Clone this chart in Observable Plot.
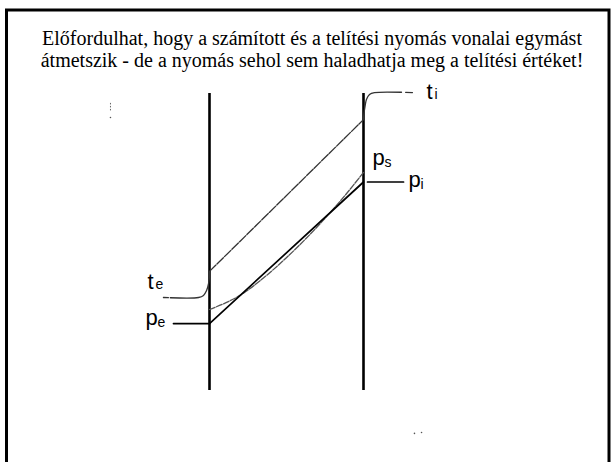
<!DOCTYPE html>
<html><head><meta charset="utf-8">
<script src="https://cdn.jsdelivr.net/npm/d3@7"></script>
<script src="https://cdn.jsdelivr.net/npm/@observablehq/plot@0.6"></script>
<style>
html,body{margin:0;padding:0;background:#fff;}
</style></head><body><div id="chart"></div>
<script>
// Title
const titleLines = [
  "Előfordulhat, hogy a számított és a telítési nyomás vonalai egymást",
  "átmetszik - de a nyomás sehol sem haladhatja meg a telítési értéket!"
];
// Wall faces (relative position across the wall) and their vertical extent
const wallX = [0, 1];
const wallLevels = [0, 99];
// Temperature line through the wall
const tempX = [0, 1];
const tempV = [39.7, 90.3];
// Outside boundary-layer temperature curve (te)
const teX = [-0.299, -0.071, -0.039, -0.019, -0.006, 0, 0];
const teV = [31, 31, 31.7, 33.3, 35.7, 38.3, 39.7];
// Inside boundary-layer temperature curve (ti), drawn from the far end
const tiX = [1.318, 1.071, 1.039, 1.019, 1.01, 1.003, 1];
const tiV = [99.3, 99.3, 98.7, 97, 94.7, 92.3, 90.3];
// Computed vapour pressure (straight line) and pe / pi levels
const pressX = [0, 1];
const pressV = [22.3, 69.5];
const peX = [-0.234, 0];
const peV = [22.3, 22.3];
const piX = [1.026, 1.26];
const piV = [69.5, 69.5];
// Saturation pressure curve (ps)
const psX = [0, 0.104, 0.201, 0.331, 0.494, 0.656, 0.773, 0.883, 1];
const psV = [27, 29.2, 31.8, 36.7, 44.0, 52.2, 58.7, 65.2, 72.7];
// Labels: main letter, subscript, anchor
const labelMain = ["t", "p", "t", "p", "p"];
const labelSub  = ["e", "e", "i", "s", "i"];
const labelX = [-0.403, -0.416, 1.409, 1.058, 1.292];
const labelV = [34, 21.7, 97.3, 75.3, 68];
// Stray specks in the picture
const speckX = [-0.643, 1.331, 1.377];
const speckV = [91, -14.3, -14];
const speckLineX = [-0.643];
const speckLineV = [[95.7, 92.7]];

const pts = (xs, vs) => xs.map((x, i) => ({x, v: vs[i]}));
const labels = labelMain.map((m, i) => ({main: m, sub: labelSub[i], x: labelX[i], v: labelV[i]}));

const plot = Plot.plot({
  width: 611, height: 462,
  marginTop: 0, marginRight: 0, marginBottom: 0, marginLeft: 0,
  x: {domain: [0, 1], range: [209, 363], axis: null},
  y: {domain: [0, 100], range: [390, 90], axis: null},
  style: {background: "#fff", overflow: "hidden"},
  marks: [
    Plot.frame({stroke: "#000", strokeWidth: 3, insetLeft: 6, insetTop: 9.5, insetRight: 2.5, insetBottom: -20}),
    ...titleLines.map((t, i) => Plot.text([t], {
      frameAnchor: "top", lineAnchor: "bottom", dx: 6, dy: i === 0 ? 44.5 : 66.5,
      fontFamily: "Liberation Serif", fontSize: 20, fill: "#000"
    })),
    Plot.ruleX(wallX, {x: d => d, y1: wallLevels[0], y2: wallLevels[1], stroke: "#000", strokeWidth: 2.6}),
    Plot.line(pts(tempX, tempV), {x: "x", y: "v", stroke: "#333", strokeWidth: 1.3, strokeDasharray: "9 1.5"}),
    Plot.line(pts(teX, teV), {x: "x", y: "v", curve: "catmull-rom", stroke: "#333", strokeWidth: 1.3, strokeDasharray: "5 2 300"}),
    Plot.line(pts(tiX, tiV), {x: "x", y: "v", curve: "catmull-rom", stroke: "#333", strokeWidth: 1.3, strokeDasharray: "7 4 300"}),
    Plot.line(pts(psX, psV), {x: "x", y: "v", curve: "catmull-rom", stroke: "#555", strokeWidth: 1.3, strokeDasharray: "6 1.5"}),
    Plot.line(pts(pressX, pressV), {x: "x", y: "v", stroke: "#000", strokeWidth: 1.7}),
    Plot.line(pts(peX, peV), {x: "x", y: "v", stroke: "#000", strokeWidth: 1.7}),
    Plot.line(pts(piX, piV), {x: "x", y: "v", stroke: "#000", strokeWidth: 1.7}),
    Plot.text(labels, {x: "x", y: "v", text: "main", textAnchor: "start", lineAnchor: "bottom",
      fontFamily: "Liberation Sans", fontSize: 22, fill: "#000"}),
    Plot.text(labels.filter(d => d.main === "t"), {x: "x", y: "v", text: "sub", textAnchor: "start", lineAnchor: "bottom",
      dx: 8, dy: 0, fontFamily: "Liberation Sans", fontSize: 14, fill: "#000"}),
    Plot.text(labels.filter(d => d.main === "p"), {x: "x", y: "v", text: "sub", textAnchor: "start", lineAnchor: "bottom",
      dx: 12, dy: 2, fontFamily: "Liberation Sans", fontSize: 14, fill: "#000"}),
    Plot.dot(pts(speckX, speckV), {x: "x", y: "v", r: 0.8, fill: "#555", stroke: null}),
    Plot.ruleX(speckLineX.map((x, i) => ({x, y1: speckLineV[i][0], y2: speckLineV[i][1]})),
      {x: "x", y1: "y1", y2: "y2", stroke: "#666", strokeWidth: 1, strokeDasharray: "1.5 1.5"})
  ]
});
document.getElementById("chart").appendChild(plot);
</script></body></html>
